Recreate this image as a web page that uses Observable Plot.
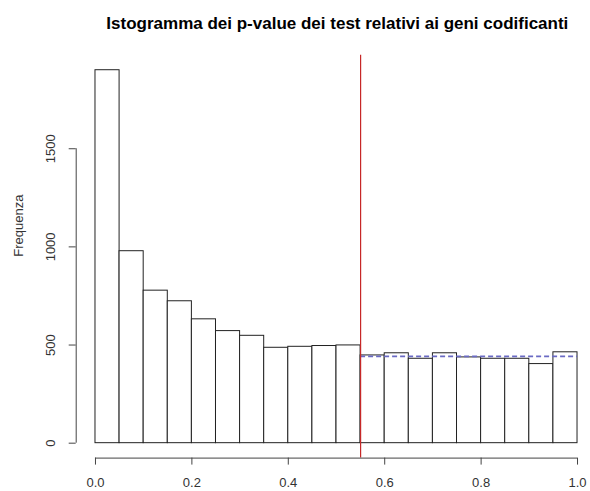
<!DOCTYPE html>
<html>
<head>
<meta charset="utf-8">
<script src="https://cdn.jsdelivr.net/npm/d3@7"></script>
<script src="https://cdn.jsdelivr.net/npm/@observablehq/plot@0.6"></script>
<style>
  html, body { margin: 0; padding: 0; background: #fff; }
  #chart svg { display: block; }
</style>
</head>
<body>
<div id="chart"></div>
<script>
const title = "Istogramma dei p-value dei test relativi ai geni codificanti";
const yLabel = "Frequenza";
const breaks = [0, 0.05, 0.1, 0.15, 0.2, 0.25, 0.3, 0.35, 0.4, 0.45, 0.5, 0.55, 0.6, 0.65, 0.7, 0.75, 0.8, 0.85, 0.9, 0.95, 1.0];
const counts = [1900, 978, 777, 723, 631, 571, 547, 486, 491, 495, 498, 447, 458, 430, 458, 437, 430, 430, 403, 463];
const xTicks = [0, 0.2, 0.4, 0.6, 0.8, 1.0];
const yTicks = [0, 500, 1000, 1500];
const threshold = 0.55;
const meanLevel = 442;

const bins = counts.map((c, i) => ({x1: breaks[i], x2: breaks[i + 1], count: c}));

// R-style 4% axis extension
const yMax = d3.max(counts);
const xDomain = [-0.04, 1.04];
const yDomain = [-0.04 * yMax, 1.04 * yMax];

const W = 590, H = 491;
const mLeft = 75.7, mTop = 54.8, mBottom = 33.4;

const font = "'Liberation Sans', Arial, Helvetica, sans-serif";

const chart = Plot.plot({
  width: W,
  height: H,
  marginLeft: mLeft,
  marginRight: 0,
  marginTop: mTop,
  marginBottom: mBottom,
  style: {fontFamily: font, fontSize: "13px", color: "#222", background: "#fff"},
  x: {domain: xDomain, range: [mLeft, 596.3]},
  y: {domain: yDomain, range: [H - mBottom, mTop]},
  marks: [
    Plot.rectY(bins, {x1: "x1", x2: "x2", y1: 0, y2: "count", fill: "white", stroke: "#222", strokeWidth: 1}),
    Plot.ruleY([meanLevel], {x1: threshold, x2: 1, stroke: "#6a6ac4", strokeWidth: 1.6, strokeDasharray: "5,3"}),
    Plot.ruleX([threshold], {stroke: "#c62828", strokeWidth: 1.2}),
    // axis lines
    Plot.ruleY([yDomain[0]], {x1: xTicks[0], x2: xTicks[xTicks.length - 1], stroke: "#444"}),
    Plot.ruleX([xDomain[0]], {y1: yTicks[0], y2: yTicks[yTicks.length - 1], stroke: "#444"}),
    Plot.axisX({ticks: xTicks, tickSize: 7, tickPadding: 12.5, tickFormat: d3.format(".1f"), stroke: "#444", label: null, fontSize: 13, fill: "#333"}),
    Plot.axisY({ticks: yTicks, tickSize: 7, tickPadding: 14, tickRotate: -90, tickFormat: d3.format("d"), stroke: "#444", label: null, fontSize: 13, fill: "#333"}),
    Plot.text([yLabel], {frameAnchor: "left", dx: 18 - mLeft, rotate: -90, fontSize: 13, fill: "#333", lineAnchor: "middle"}),
    Plot.text([title], {frameAnchor: "top", dx: 4, dy: 28 - mTop, lineAnchor: "bottom", fontSize: 17, fontWeight: "bold", fill: "#000"})
  ]
});

document.getElementById("chart").appendChild(chart);
</script>
</body>
</html>
